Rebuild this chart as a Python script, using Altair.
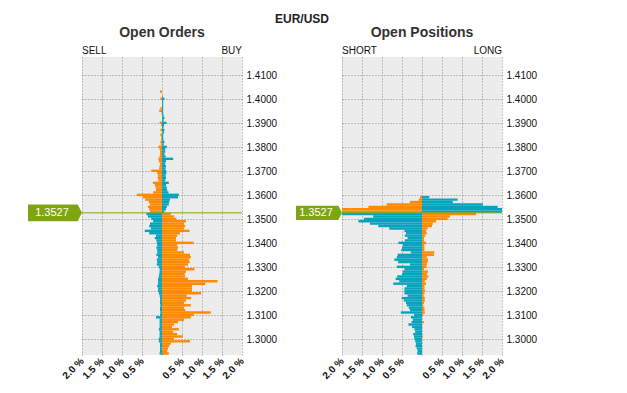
import altair as alt
import pandas as pd

current_price = 1.3527
bucket = 0.001
ORANGE = "#fd8a02"
TEAL = "#05a3bd"
GREEN = "#7fa611"

# Open Orders: buckets from top (lower edge 1.4027) downward
orders_top = 1.4027
orders_left = [
    .05, 0, 0, .04, 0, 0, 0, .04, .07, .01,
    0, 0, 0, .06, .02, 0, .04, 0, .04, .02,
    .02, .04, .03, .09, .06, .05, .05, .06, .09, .08,
    .05, .06, .07, .27, .12, .10, .11, .09, .23, .18,
    .16, .15, .22, .63, .48, .42, .33, .30, .35, .32,
    .30,
    .39, .35, .27, .22, .30, .32, .28, .43, .32, .15,
    .18, .14, .13, .12, .14, .12, .12, .14, .10, .13,
    .12, .13, .08, .06, .06, .07, .08, .10, .10, .10,
    .12, .10, .10, .08, .06, .05, .05, .05, .04, .05,
    .05, .04, .05, .15, .06, .06, .06, .06, .08, .06,
    .06, .06, .08, .08, .05, .05, .05, .05, .06, .04,
]
orders_right = [
    0, 0, .02, .06, .03, .03, .03, .03, .03, .03,
    .04, .06, .04, .11, .05, .04, .06, .05, .03, .03,
    .04, .06, .04, .12, .08, .08, .06, .09, .28, .10,
    .08, .10, .09, .10, .11, .09, .10, .08, .17, .10,
    .12, .13, .16, .42, .40, .20, .18, .17, .12, .10,
    .06,
    .22, .30, .36, .60, .55, .58, .55, .69, .45, .38,
    .35, .35, .79, .38, .40, .38, .55, .70, .72, .68,
    .69, .65, .57, .81, .60, .57, .58, .65, 1.39, 1.08,
    .75, .75, .75, .98, .62, .73, .60, .55, .72, .55,
    .58, 1.22, .80, .72, .55, .40, .30, .25, .42, .28,
    .38, .52, .30, .70, .22, .18, .15, .13, .17, .17,
]

# Open Positions
positions_top = 1.3587
positions_left = [
    .05, .08, .30, .88, 1.34, 2.1, 2.1,
    2.1, 1.22, 1.45, 1.59, 1.30, 1.09, .82, .44, .40, .43,
    .36, .43, .59, .48, .50, .52, .28, .61, .63, .69,
    .60, .30, .63, .44, .48, .50, .62, .66, .57, .72,
    .38, .44, .44, .44, .36, .51, .45, .40, .38, .33,
    .30, .53, .20, .28, .23, .26, .34, .25, .19, .17,
    .22, .20, .19, .17, .15, .16, .13, .11, .12, .10,
]
positions_right = [
    .18, .89, .77, 1.52, 1.89, 2.1, 2.1,
    1.35, .70, .64, .35, .27, .25, .14, .10, .12, .08,
    .05, .05, .10, .06, .06, .06, .31, .30, .12, .15,
    .14, .12, .11, .05, .15, .12, .16, .12, .07, .10,
    .06, .06, .08, .06, .04, .07, .07, .05, .03, .06,
    .06, .07, .03, 0, 0, .05, 0, 0, 0, 0,
    0, .02, 0, 0, 0, 0, 0, 0, 0, 0,
]

y_ticks = [1.30, 1.31, 1.32, 1.33, 1.34, 1.35, 1.36, 1.37, 1.38, 1.39, 1.40, 1.41]
x_ticks = [-2, -1.5, -1, -0.5, 0, 0.5, 1, 1.5, 2]
y_domain = [1.2935, 1.4176]

W, H = 160, 298


def build(top, left, right):
    rows = []
    for i, (l, r) in enumerate(zip(left, right)):
        low = round(top - i * bucket, 4)
        above = low >= current_price - 1e-9
        high = round(low + bucket, 4)
        rows.append(dict(low=low, high=high, value=-l, color="orange" if above else "teal"))
        rows.append(dict(low=low, high=high, value=r, color="teal" if above else "orange"))
    return pd.DataFrame(rows)


price_df = pd.DataFrame({"price": [current_price], "label": [f"{current_price:.4f}"]})


def panel(df, title, lt, rt, box_w, extra=None):
    xs = alt.Scale(domain=[-2, 2], nice=False, zero=False)
    ys = alt.Scale(domain=y_domain, nice=False, zero=False)
    yaxis = alt.Axis(
        values=y_ticks, orient="right", title=None, format=".4f",
        labelFontSize=10, labelPadding=4, labelFlush=False, labelOverlap=False,
        labelColor="#111")
    bars = alt.Chart(df).mark_rect(clip=True).encode(
        x=alt.X("value:Q", scale=xs, axis=alt.Axis(
            values=x_ticks, title=None, labelAngle=315, labelAlign="right",
            labelBaseline="middle", labelFontWeight="bold", labelFontSize=10,
            labelPadding=4, labelFlush=False, labelOverlap=False, labelColor="#111",
            labelExpr="datum.value == 0 ? '' : format(abs(datum.value), '.1f') + ' %'")),
        x2=alt.datum(0),
        y=alt.Y("low:Q", scale=ys, axis=yaxis),
        y2="high:Q",
        color=alt.Color("color:N", scale=alt.Scale(domain=["orange", "teal"], range=[ORANGE, TEAL]), legend=None),
    )
    rule = alt.Chart(price_df).mark_rule(color=GREEN, strokeWidth=1).encode(
        y=alt.Y("price:Q", scale=ys, axis=yaxis), x=alt.value(0), x2=alt.value(W))
    half = box_w / 2.0
    tag = alt.Chart(price_df).mark_point(
        shape="M-1,-0.31L0.84,-0.31L1,0L0.84,0.31L-1,0.31Z", filled=True,
        size=box_w * box_w, color=GREEN, opacity=1, strokeWidth=0).encode(
        y=alt.Y("price:Q", scale=ys, axis=yaxis), x=alt.value(-half))
    tag_text = alt.Chart(price_df).mark_text(
        color="white", fontSize=11, font="Liberation Sans", align="center").encode(
        y=alt.Y("price:Q", scale=ys, axis=yaxis), x=alt.value(-half - 3), text="label:N")
    t = alt.Chart(price_df).mark_text(
        text=title, fontSize=14, fontWeight="bold", color="#333", font="Liberation Sans").encode(
        x=alt.value(W / 2), y=alt.value(-24))
    l_txt = alt.Chart(price_df).mark_text(
        text=lt, fontSize=10, align="left", color="#111", font="Liberation Sans").encode(
        x=alt.value(0), y=alt.value(-6))
    r_txt = alt.Chart(price_df).mark_text(
        text=rt, fontSize=10, align="right", color="#111", font="Liberation Sans").encode(
        x=alt.value(W), y=alt.value(-6))
    layers = [bars, rule, tag, tag_text, t, l_txt, r_txt]
    if extra is not None:
        layers.append(extra)
    return alt.layer(*layers).properties(width=W, height=H)


main_title = alt.Chart(price_df).mark_text(
    text="EUR/USD", fontSize=12, fontWeight="bold", color="#222", font="Liberation Sans").encode(
    x=alt.value(220), y=alt.value(-38))

left = panel(build(orders_top, orders_left, orders_right), "Open Orders", "SELL", "BUY", 54, main_title)
right = panel(build(positions_top, positions_left, positions_right), "Open Positions", "SHORT", "LONG", 46)

chart = alt.hconcat(left, right, spacing=100, bounds="flush").properties(
    padding={"left": 20, "top": 5, "right": 5, "bottom": 5}
).configure_view(fill="#ececec", strokeWidth=0).configure_axis(
    domain=False, ticks=False, grid=True, gridColor="#8a8a8a", gridDash=[1, 2],
    gridWidth=1, labelFont="Liberation Sans"
)

chart.save("out.html", embed_options={"renderer": "svg", "actions": False})
